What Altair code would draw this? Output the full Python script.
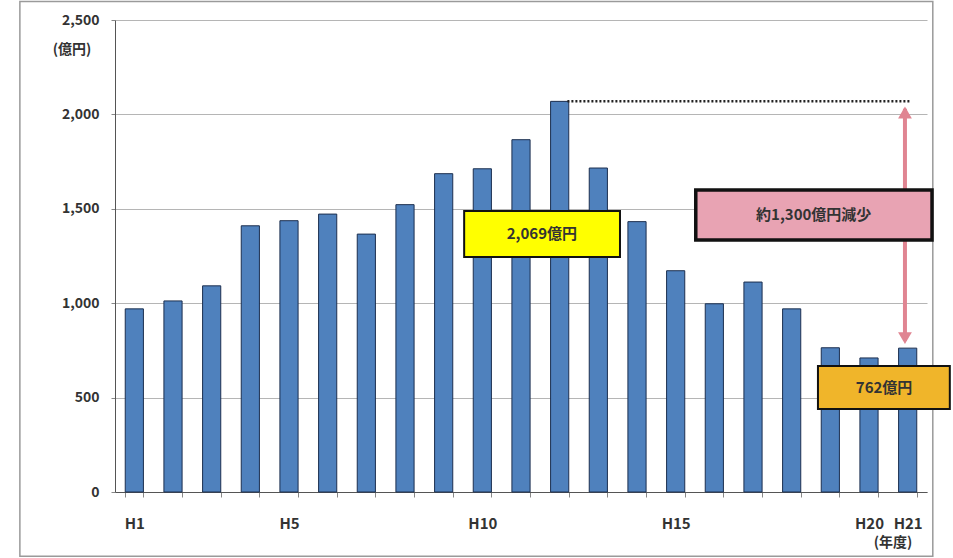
import altair as alt
import pandas as pd

# ---- data ----
years = ["H1", "H2", "H3", "H4", "H5", "H6", "H7", "H8", "H9", "H10", "H11",
         "H12", "H13", "H14", "H15", "H16", "H17", "H18", "H19", "H20", "H21"]
values = [970, 1012, 1092, 1410, 1437, 1472, 1366, 1522, 1686, 1712, 1866,
          2069, 1716, 1432, 1172, 997, 1112, 970, 764, 710, 762]
shown_labels = ["H1", "H5", "H10", "H15", "H20", "H21"]
y_ticks = [0, 500, 1000, 1500, 2000, 2500]

# annotation boxes (x in year-index units, y in 億円)
box_text = ["2,069億円", "約1,300億円減少", "762億円"]
box_x1 = [9.53, 15.52, 18.68]
box_x2 = [13.56, 21.63, 22.09]
box_y1 = [1488, 1600, 667]
box_y2 = [1245, 1335, 440]
box_tx = [11.54, 18.57, 20.39]
box_ty = [1366, 1467, 553]
box_fill = ["#ffff00", "#e8a3b3", "#f0b52a"]
box_stroke_w = [2, 3.5, 2]

unit_texts = ["(億円)", "(年度)"]
unit_x = [-0.61, 20.62]
unit_y = [2341, -272]

frame_x = [-1.96, 21.65]
frame_y = [2598, -340]

W, H = 812, 472
FONT = "Noto Sans CJK JP"

bars_df = pd.DataFrame({"year": years, "value": values})
box_df = pd.DataFrame({"text": box_text, "x1": box_x1, "x2": box_x2, "y1": box_y1,
                       "y2": box_y2, "tx": box_tx, "ty": box_ty, "fill": box_fill,
                       "sw": box_stroke_w})
unit_df = pd.DataFrame({"text": unit_texts, "x": unit_x, "y": unit_y})
peak_df = pd.DataFrame({"x1": [12.2], "x2": [21.05], "y": [2069]})
arrow_df = pd.DataFrame({"x": [20.93], "y1": [2030], "y2": [800]})
head_df = pd.DataFrame({"x": [20.93, 20.93], "y": [2010, 815],
                        "shape": ["triangle-up", "triangle-down"]})
frame_df = pd.DataFrame({"x1": [frame_x[0]], "x2": [frame_x[1]],
                         "y1": [frame_y[0]], "y2": [frame_y[1]]})

y_scale = alt.Scale(domain=[0, 2500], nice=False)
xb_scale = alt.Scale(domain=years, paddingInner=0.53, paddingOuter=0.265)
xq_scale = alt.Scale(domain=[0.5, 21.5], nice=False, zero=False)

label_expr = ("indexof(['H1','H5','H10','H15','H20','H21'], datum.value) >= 0 "
              "? datum.value : ''")

frame = alt.Chart(frame_df).mark_rect(fillOpacity=0, stroke="#9a9a9a", strokeWidth=1.5).encode(
    x=alt.X("x1:Q", scale=xq_scale, axis=None), x2="x2:Q",
    y=alt.Y("y1:Q", scale=y_scale, title=None), y2="y2:Q",
)

bars = alt.Chart(bars_df).mark_bar(color="#4f81bd", stroke="#1c2f4f", strokeWidth=1).encode(
    x=alt.X("year:N", scale=xb_scale, sort=years, title=None,
            axis=alt.Axis(labelAngle=0, tickBand="extent", labelExpr=label_expr,
                          labelOverlap=False, tickSize=5, labelPadding=19, grid=False,
                          labelFontSize=15, labelFontWeight="bold", labelColor="#333",
                          labelFont=FONT, domainColor="#555", tickColor="#888")),
    y=alt.Y("value:Q", scale=y_scale, title=None,
            axis=alt.Axis(values=y_ticks, labelExpr="format(datum.value, ',d')",
                          grid=True, gridColor="#b5b5b5",
                          tickSize=4, labelPadding=12, labelFontSize=14,
                          labelFontWeight="bold", labelColor="#333", labelFont=FONT,
                          domainColor="#555", tickColor="#888")),
)

peak_line = alt.Chart(peak_df).mark_rule(color="#222", strokeDash=[2, 2], strokeWidth=2.5).encode(
    x=alt.X("x1:Q", scale=xq_scale, axis=None), x2="x2:Q",
    y=alt.Y("y:Q", scale=y_scale, title=None),
)

arrow = alt.Chart(arrow_df).mark_rule(color="#e08592", strokeWidth=4).encode(
    x=alt.X("x:Q", scale=xq_scale, axis=None),
    y=alt.Y("y1:Q", scale=y_scale, title=None), y2="y2:Q",
)

heads = alt.Chart(head_df).mark_point(filled=True, color="#e08592", size=190, opacity=1).encode(
    x=alt.X("x:Q", scale=xq_scale, axis=None),
    y=alt.Y("y:Q", scale=y_scale, title=None),
    shape=alt.Shape("shape:N", scale=None),
)

boxes = alt.Chart(box_df).mark_rect(stroke="#111").encode(
    x=alt.X("x1:Q", scale=xq_scale, axis=None), x2="x2:Q",
    y=alt.Y("y1:Q", scale=y_scale, title=None), y2="y2:Q",
    fill=alt.Fill("fill:N", scale=None),
    strokeWidth=alt.StrokeWidth("sw:Q", scale=None),
)

box_labels = alt.Chart(box_df).mark_text(font=FONT, fontSize=15, color="#333",
                                         fontWeight="bold").encode(
    x=alt.X("tx:Q", scale=xq_scale, axis=None),
    y=alt.Y("ty:Q", scale=y_scale, title=None),
    text="text:N",
)

unit_labels = alt.Chart(unit_df).mark_text(font=FONT, fontSize=14, color="#333",
                                           fontWeight="bold").encode(
    x=alt.X("x:Q", scale=xq_scale, axis=None),
    y=alt.Y("y:Q", scale=y_scale, title=None),
    text="text:N",
)

chart = alt.layer(frame, bars, peak_line, arrow, heads, boxes, box_labels, unit_labels).resolve_scale(
    x="independent"
).resolve_axis(x="independent").properties(
    width=W, height=H,
    autosize=alt.AutoSizeParams(type="none"),
    padding={"left": 115, "top": 20, "right": 26, "bottom": 66},
    background="white",
).configure_view(stroke=None)

chart.save("out.html", embed_options={"renderer": "svg", "actions": False})
